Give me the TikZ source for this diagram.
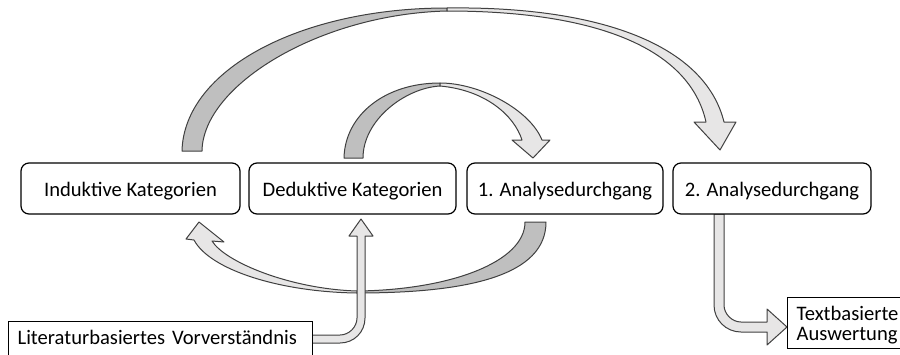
\documentclass[tikz,border=0pt]{standalone}
\usepackage{fontspec}
\setmainfont{Carlito}
\definecolor{backgray}{RGB}{191,191,191}
\definecolor{frontgray}{RGB}{231,230,230}
\definecolor{edgegray}{RGB}{64,64,64}
\tikzset{
  katbox/.style={draw, fill=white, rounded corners=4pt, minimum height=25.5pt,
    inner sep=0pt, line width=0.6pt, text height=7.5pt, text depth=0pt,
    font=\fontsize{10.3}{12}\selectfont},
  textbox/.style={draw, fill=white, line width=0.6pt, align=left, inner xsep=4.5pt,
    inner ysep=4pt, text height=7.5pt, text depth=10pt,
    font=\fontsize{10.3}{10}\selectfont},
  backpart/.style={fill=backgray, draw=edgegray, line width=0.5pt, line join=round},
  frontpart/.style={fill=frontgray, draw=edgegray, line width=0.5pt, line join=round},
}

\begin{document}
\begin{tikzpicture}[x=0.5pt,y=-0.5pt]
                \clip (0,0) rectangle (900,354);
                % grosser Bogen
                \path[backpart] (182,151) .. controls (184,70) and (300,8) .. (447,8)
                    -- (447,11) .. controls (320,14) and (203,85) .. (202,151) -- cycle;
                \path[frontpart] (447,8) .. controls (600,6) and (705,45) .. (724,122)
                    -- (736,122) -- (720,150) -- (694,122) -- (706,122)
                    .. controls (690,50) and (600,11) .. (447,11) -- cycle;
                % kleiner Bogen
                \path[backpart] (344,158) .. controls (345,115) and (385,83) .. (440,83)
                    -- (440,86) .. controls (405,88) and (363,120) .. (363,158) -- cycle;
                \path[frontpart] (440,83) .. controls (480,83) and (530,110) .. (542,140)
                    -- (550,140) -- (533,158) -- (512,140) -- (522,140)
                    .. controls (514,115) and (485,90) .. (440,86) -- cycle;
                % unterer Bogen
                \path[backpart] (546,222) .. controls (546,275) and (470,293) .. (357,293)
                    -- (357,291) .. controls (450,290) and (525,262) .. (525,222) -- cycle;
                \path[frontpart] (357,293) .. controls (280,292) and (210,270) .. (194,240)
                    -- (186,239) -- (199,222) -- (224,242) -- (212,241)
                    .. controls (225,262) and (290,289) .. (357,291) -- cycle;
                % gerade Pfeile
                \path[frontpart] (312,343) -- (340,343) .. controls (354,343) and (365,332) .. (365,318)
                    -- (365,236) -- (373,236) -- (361,219) -- (349,236) -- (357,236)
                    -- (357,318) .. controls (357,327) and (349,335) .. (340,335) -- (312,335) -- cycle;
                \path[frontpart] (714,214) -- (714,305) .. controls (714,320) and (726,332) .. (741,332)
                    -- (767,332) -- (767,345) -- (787,327) -- (767,309) -- (767,322)
                    -- (741,322) .. controls (732,322) and (724,314) .. (724,305) -- (724,214) -- cycle;
                \node[katbox, minimum width=109.5pt] (induktiv) at (130.5,188.5) {Induktive Kategorien};
                \node[katbox, minimum width=103.5pt] (deduktiv) at (352.5,188.5) {Deduktive Kategorien};
                \node[katbox, minimum width=98pt] (analyse1) at (565,188.5) {1. Analysedurchgang};
                \node[katbox, minimum width=99pt] (analyse2) at (772,188.5) {2. Analysedurchgang};
                \node[textbox, anchor=north west, text width=143pt] (literatur) at (8,321) {Literaturbasiertes Vorverständnis};
                \node[textbox, anchor=north west, text width=60pt] (textbasiert) at (787,297) {Textbasierte\\Auswertung};
\end{tikzpicture}
\end{document}
